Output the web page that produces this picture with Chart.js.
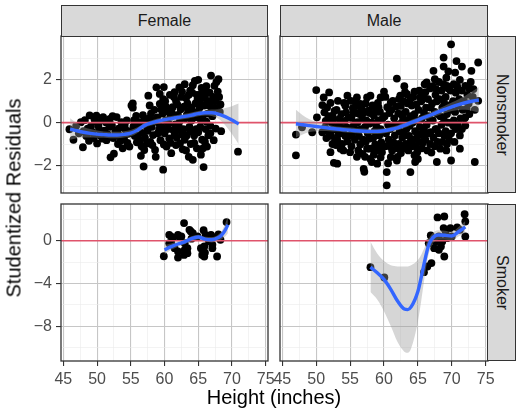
<!doctype html>
<html>
<head>
<meta charset="utf-8">
<title>Studentized Residuals</title>
<script src="https://cdn.jsdelivr.net/npm/chart.js@4.4.1/dist/chart.umd.min.js"></script>
<style>
  body { margin: 0; background: #ffffff; }
  #page { position: relative; width: 516px; height: 409px; overflow: hidden; font-family: "Liberation Sans", Arial, sans-serif; }
  canvas { position: absolute; left: 0; top: 0; }
  .strip { position: absolute; box-sizing: border-box; background: #d9d9d9; border: 1.3px solid #333333; color: #1a1a1a; font-size: 16px; display: flex; align-items: center; justify-content: center; z-index: 5; }
  .vtext { writing-mode: vertical-rl; }
  #ytitle { position: absolute; left: 14px; top: 198px; transform: translate(-50%, -50%) rotate(-90deg); font-size: 20px; white-space: nowrap; color: #000; }
  #xtitle { position: absolute; left: 274px; top: 397px; transform: translate(-50%, -50%); font-size: 20px; white-space: nowrap; color: #000; }
</style>
</head>
<body>
<div id="page">
  <canvas id="tl" width="516" height="409"></canvas>
  <canvas id="tr" width="516" height="409"></canvas>
  <canvas id="bl" width="516" height="409"></canvas>
  <canvas id="br" width="516" height="409"></canvas>
  <div class="strip" style="left:61px; top:5px; width:207px; height:32px;">Female</div>
  <div class="strip" style="left:280px; top:5px; width:208px; height:32px;">Male</div>
  <div class="strip" style="left:487px; top:36px; width:29px; height:157px;"><span class="vtext">Nonsmoker</span></div>
  <div class="strip" style="left:487px; top:204px; width:29px; height:157px;"><span class="vtext">Smoker</span></div>
  <div id="ytitle">Studentized Residuals</div>
  <div id="xtitle">Height (inches)</div>
</div>

<script>
// axes
const xRange = [44.65, 75.35];
const xMajor = [45, 50, 55, 60, 65, 70, 75];
const xMinor = [47.5, 52.5, 57.5, 62.5, 67.5, 72.5];
const topRange = [-3.29, 4.05];
const topMajor = [-2, 0, 2];
const topMinor = [-3, -1, 1, 3];
const botRange = [-11.27, 3.45];
const botMajor = [-8, -4, 0];
const botMinor = [-10, -6, -2, 2];
const refY = 0;

// residuals: [height, studentized residual]
const femaleNonsmoker = [
  [45.9,-0.31],[46.5,-0.8],[46.9,-0.15],[47.3,-0.5],[47.6,0.02],[47.9,-1.15],[48.2,0.12],[48.4,-0.62],[48.6,-0.28],[48.9,0.34],
  [49.1,-0.18],[49.3,-0.45],[49.5,-0.72],[49.7,0.05],[49.9,0.33],[50.0,-0.97],[50.3,-0.32],[50.5,-0.6],[50.7,0.12],[50.9,0.26],
  [51.1,-0.38],[51.4,-0.82],[51.6,-0.55],[51.9,0.18],[52.0,-1.62],[52.2,-0.12],[52.4,-0.72],[52.5,-1.45],[52.7,-0.42],[52.9,0.26],
  [53.1,-1.0],[53.2,-0.28],[53.4,-0.62],[53.6,0.02],[53.8,-1.2],[54.0,-0.76],[54.2,-0.32],[54.4,0.1],[54.6,-0.52],[54.8,-1.12],
  [55.1,0.8],[55.3,0.7],[55.3,0.9],[55.4,-0.18],[55.6,-0.62],[55.8,0.32],[55.9,-0.92],[56.1,-0.2],[56.3,0.02],[56.4,-0.82],
  [56.5,-1.55],[56.7,-0.48],[56.9,-2.05],[57.0,-1.28],[57.2,0.12],[57.4,-0.98],[57.5,-0.38],[57.6,1.26],[57.8,0.8],[58.0,0.42],
  [58.1,-0.2],[58.3,-0.58],[58.4,0.1],[58.6,-1.28],[58.7,-1.6],[58.8,1.65],[59.0,-0.5],[59.1,0.0],[59.3,1.34],[59.3,0.88],
  [59.4,-0.82],[59.6,-0.2],[59.7,0.42],[59.8,-2.2],[59.9,-1.02],[59.9,1.66],[60.1,1.0],[60.2,0.1],[60.3,-1.12],[60.4,0.52],
  [60.5,-0.3],[60.7,-0.74],[60.8,1.3],[60.9,0.28],[61.0,-1.43],[61.2,0.72],[61.3,-0.35],[61.5,1.42],[61.6,-0.08],[61.7,1.02],
  [61.8,-0.7],[62.0,0.36],[62.1,-0.12],[62.2,1.65],[62.3,-0.97],[62.4,0.62],[62.5,1.2],[62.6,-0.55],[62.7,-1.25],[62.8,-0.3],
  [63.0,1.8],[63.1,0.2],[63.2,1.15],[63.3,-0.6],[63.4,0.9],[63.5,0.55],[63.6,-1.6],[63.7,-0.2],[63.8,1.5],[63.9,-1.0],
  [64.0,0.1],[64.1,1.4],[64.2,-1.74],[64.3,0.5],[64.4,-0.6],[64.5,1.95],[64.6,0.9],[64.7,-0.3],[64.8,-1.2],[64.9,1.1],
  [65.0,2.0],[65.1,0.4],[65.2,1.3],[65.3,-0.2],[65.4,0.1],[65.5,1.62],[65.6,-0.8],[65.7,-1.2],[65.8,-2.08],[65.9,0.8],
  [66.0,1.2],[66.1,-0.3],[66.2,1.7],[66.3,-1.12],[66.4,0.42],[66.5,-0.6],[66.6,0.8],[66.9,2.2],[67.0,1.0],[67.1,0.3],
  [67.3,-0.82],[67.4,1.72],[67.5,0.7],[67.6,-0.28],[67.7,1.9],[67.9,1.45],[68.0,2.03],[68.2,0.5],[68.4,-0.4],[70.9,-1.36],
  [48.0,-0.4],[48.8,-0.85],[49.6,0.18],[50.2,-0.15],[50.8,-0.75],[51.3,0.02],[51.8,-0.2],[52.3,0.3],[53.0,-0.45],[53.5,-0.85],
  [54.1,-0.1],[54.5,-0.95],[55.0,-0.4],[55.5,0.12],[56.0,-0.6],[56.6,-1.1],[56.8,0.35],[57.1,-0.7],[57.3,-0.15],[57.7,0.2],
  [57.9,-0.9],[58.2,-1.05],[58.5,0.6],[58.9,0.25],[59.2,-0.3],[59.5,0.62],[59.8,1.1],[60.0,-0.5],[60.2,0.75],[60.6,-0.05],
  [60.9,-0.95],[61.1,0.45],[61.4,1.2],[61.5,-0.55],[61.9,0.85],[62.0,-0.35],[62.3,0.1],[62.6,1.45],[62.9,0.75],[63.0,-0.8],
  [63.3,0.35],[63.6,1.3],[63.8,-0.4],[64.0,0.7],[64.2,1.75],[64.4,-0.95],[64.6,0.25],[64.8,1.3],[65.0,-0.45],[65.2,0.7],
  [65.3,1.05],[65.6,0.25],[65.8,1.45],[66.0,-0.9],[66.2,0.05],[66.4,1.0],[66.7,1.4],[66.8,-0.15],[67.0,0.55],[67.2,1.2],
  [67.6,1.05],[68.1,1.2],[68.3,0.85],[66.8,-0.5],[65.4,-1.5],[63.2,-1.3],[61.7,-1.05]
];

const maleNonsmoker = [
  [47.0,-0.56],[47.0,-1.53],[47.9,-0.22],[49.4,-0.45],[50.9,-0.45],[50.0,1.52],[51.1,1.18],[51.9,1.41],[50.9,0.82],[51.6,0.71],
  [52.4,0.33],[50.1,0.25],[52.4,-1.0],[52.1,-1.38],[52.6,-1.88],[53.1,-1.92],[53.3,-0.53],[53.8,-1.0],[54.6,1.26],[54.3,0.79],
  [55.0,-1.38],[55.3,-0.22],[55.5,0.48],[56.0,1.18],[56.5,0.87],[57.0,-2.16],[57.1,-2.3],[56.8,-1.46],[57.5,1.18],[58.0,1.26],
  [57.7,0.56],[58.0,-1.22],[58.2,-1.84],[59.0,-1.92],[59.5,1.18],[59.2,0.71],[59.7,-1.38],[60.4,-2.31],[60.4,-2.93],[61.0,0.95],
  [61.0,-1.61],[61.9,2.06],[61.9,-1.77],[62.4,1.26],[62.6,0.4],[63.4,1.33],[63.9,-2.31],[64.6,-1.84],[64.9,-1.38],[65.3,1.18],
  [66.3,1.88],[65.8,-0.6],[66.8,-1.0],[67.3,2.42],[67.5,2.03],[67.8,-1.84],[68.3,-1.22],[67.7,1.57],[68.8,3.04],[68.8,2.62],
  [69.3,1.72],[69.9,3.66],[69.9,-1.77],[70.2,0.95],[70.5,2.34],[70.7,2.88],[71.2,-0.6],[71.5,2.62],[72.0,1.72],[72.0,0.25],
  [72.2,0.64],[72.9,2.42],[73.2,1.57],[73.4,-1.84],[73.9,2.81],[73.9,1.02],[72.0,-0.14],[70.2,-0.14],[69.3,-1.0],[71.2,-1.22],
  [51.2,0.48],[51.4,0.08],[51.3,-0.22],[51.5,-0.72],
  [52.1,0.92],[52.3,-0.02],[52.6,-0.32],[52.2,-0.62],[52.8,-0.82],[52.7,0.55],
  [53.2,1.02],[53.0,0.6],[53.4,0.18],[53.3,-0.12],[53.5,-0.42],[53.1,-0.8],[53.6,-1.22],
  [54.1,0.92],[54.4,0.48],[54.2,0.08],[54.5,-0.22],[54.3,-0.62],[54.6,-0.88],
  [55.1,1.02],[55.4,0.68],[55.2,0.22],[55.6,-0.1],[55.3,-0.52],[55.7,-0.8],[55.2,-1.1],
  [56.2,0.78],[56.4,0.4],[56.1,0.02],[56.6,-0.3],[56.3,-0.62],[56.5,-1.02],[56.2,-1.3],
  [57.3,0.9],[57.1,0.48],[57.4,0.1],[57.2,-0.2],[57.6,-0.5],[57.3,-0.9],[57.5,-1.22],[57.2,-1.6],
  [58.3,0.8],[58.5,0.32],[58.2,0.0],[58.6,-0.4],[58.4,-0.72],[58.7,-1.02],[58.5,-1.5],
  [59.1,0.92],[59.4,0.5],[59.2,0.1],[59.5,-0.3],[59.3,-0.6],[59.6,-0.92],[59.2,-1.2],[59.5,-1.62],
  [60.2,1.2],[60.5,0.72],[60.1,0.3],[60.6,-0.1],[60.3,-0.5],[60.7,-0.8],[60.2,-1.1],[60.6,-1.9],
  [61.3,1.02],[61.1,0.6],[61.5,0.2],[61.2,-0.2],[61.6,-0.6],[61.4,-0.92],[61.2,-1.3],
  [62.2,1.1],[62.5,0.78],[62.1,0.42],[62.6,0.0],[62.3,-0.4],[62.7,-0.7],[62.2,-1.0],[62.5,-1.42],
  [63.1,1.42],[63.5,0.9],[63.2,0.5],[63.6,0.1],[63.3,-0.3],[63.7,-0.62],[63.2,-1.0],[63.6,-1.3],
  [64.3,1.2],[64.1,0.8],[64.5,0.4],[64.2,0.0],[64.6,-0.4],[64.3,-0.8],[64.1,-1.1],[64.5,-1.52],
  [65.2,1.5],[65.5,1.0],[65.1,0.6],[65.6,0.2],[65.3,-0.2],[65.5,-0.52],[65.2,-0.9],[65.6,-1.2],
  [66.1,1.42],[66.5,1.1],[66.2,0.7],[66.6,0.3],[66.3,-0.1],[66.5,-0.5],[66.1,-0.8],[66.4,-1.3],
  [67.2,1.7],[67.6,1.3],[67.1,0.9],[67.5,0.5],[67.2,0.1],[67.6,-0.3],[67.3,-0.7],[67.5,-1.1],
  [68.1,1.9],[68.5,1.5],[68.2,1.1],[68.6,0.7],[68.3,0.3],[68.5,-0.1],[68.1,-0.5],[68.6,-0.9],
  [69.2,2.1],[69.5,1.6],[69.1,1.2],[69.6,0.8],[69.3,0.4],[69.5,0.0],[69.1,-0.4],[69.6,-0.8],[69.2,-1.3],
  [70.3,1.8],[70.6,1.4],[70.2,1.0],[70.5,0.5],[70.3,0.1],[70.6,-0.3],[70.4,-0.9],
  [71.2,2.0],[71.5,1.5],[71.1,1.1],[71.6,0.6],[71.3,0.2],[71.5,-0.3],
  [72.3,1.3],[72.5,0.9],[72.6,0.4],
  [73.1,1.2],[73.4,0.6],
  [51.8,0.3],[51.9,-0.45],[52.5,0.15],[52.9,-1.05],[53.7,0.4],[53.8,-0.25],[54.0,-0.5],[54.8,0.25],[54.9,-0.6],[55.8,0.95],
  [55.9,0.45],[55.9,-0.35],[56.8,0.2],[56.9,-0.8],[56.7,0.65],[57.8,-0.05],[57.9,0.45],[57.8,-0.75],[58.8,0.6],[58.9,-0.2],
  [58.9,-1.3],[59.8,0.2],[59.9,-0.45],[59.8,-1.1],[60.8,0.45],[60.9,-0.3],[60.9,-1.1],[61.8,0.75],[61.8,-0.1],[61.9,-1.2],
  [62.9,1.0],[62.8,0.25],[62.9,-0.5],[62.8,-1.2],[63.9,1.1],[63.9,0.3],[63.8,-0.15],[63.9,-0.9],[64.8,0.85],[64.8,0.1],
  [64.9,-0.65],[64.7,-1.1],[65.8,1.25],[65.9,0.45],[65.9,-0.3],[65.7,-0.95],[66.8,1.6],[66.9,0.7],[66.8,0.15],[66.9,-0.45],
  [67.8,1.0],[67.9,0.4],[67.8,-0.3],[67.9,-0.9],[68.8,1.8],[68.9,0.9],[68.8,0.2],[68.9,-0.6],[69.8,1.5],[69.9,0.6],
  [69.9,-0.5],[70.8,1.7],[70.9,0.8],[70.9,-0.1],[71.8,1.0],[71.9,0.2],[72.8,1.9],[72.6,1.6],[67.0,-1.4],[65.0,-1.7],
  [62.0,-1.6],[58.0,-1.7],[56.0,-1.6],[54.0,-1.3],[60.0,1.45],[63.0,1.7],[66.0,1.8],[69.5,2.4],[64.5,1.45]
];

const femaleSmoker = [
  [59.9,-1.45],[60.7,0.56],[60.7,-0.22],[61.0,0.4],[61.0,-0.22],[61.5,-0.69],[61.3,0.3],[62.0,-1.0],[62.0,-1.57],[62.0,0.56],
  [62.2,0.4],[62.5,0.41],[62.9,1.66],[62.9,-1.32],[63.0,-0.85],[63.0,-0.22],[63.4,-0.69],[63.4,-1.16],[63.7,1.03],[63.9,0.87],
  [64.0,0.2],[64.2,0.72],[64.9,0.41],[65.4,-0.69],[65.6,-1.32],[65.8,1.0],[65.9,-0.53],[65.9,-1.48],[66.0,-1.1],[66.1,0.56],
  [66.6,-0.06],[66.9,0.56],[67.0,0.41],[67.1,-0.69],[67.1,-0.37],[67.8,-1.47],[68.0,0.6],[68.3,0.1],[69.2,1.76]
];

const maleSmoker = [
  [58.0,-2.47],[60.05,-3.44],[65.9,-2.94],[66.4,-2.41],[67.0,-2.09],[66.6,-0.22],[66.9,0.5],[67.9,2.19],[68.9,2.28],[68.6,-0.06],
  [67.4,-0.69],[68.4,-0.53],[68.9,-1.47],[69.1,0.88],[69.8,1.19],[70.8,1.25],[71.9,2.5],[72.0,1.81],[72.0,0.41],[70.0,0.41],
  [69.3,0.25],[71.2,1.03],[67.6,-0.06],[68.1,0.41],[68.1,-0.85],[68.8,1.19]
];

// loess fits and confidence bands
const fnFitX = [46,47,48,49,50,51,52,53,54,55,56,57,58,59,60,61,62,63,64,65,66,67,68,69,70,71];
const fnFit = [-0.3,-0.38,-0.45,-0.5,-0.54,-0.56,-0.58,-0.58,-0.55,-0.49,-0.35,-0.14,-0.02,0.07,0.14,0.19,0.24,0.29,0.35,0.42,0.46,0.46,0.4,0.28,0.12,-0.06];
const fnHi = [0.2,-0.03,-0.2,-0.3,-0.37,-0.41,-0.43,-0.43,-0.4,-0.34,-0.22,-0.02,0.1,0.19,0.26,0.31,0.36,0.41,0.47,0.54,0.59,0.61,0.62,0.68,0.77,0.89];
const fnLo = [-0.8,-0.73,-0.7,-0.7,-0.71,-0.71,-0.73,-0.73,-0.7,-0.64,-0.48,-0.26,-0.14,-0.05,0.02,0.07,0.12,0.17,0.23,0.3,0.33,0.31,0.18,-0.12,-0.53,-1.01];

const mnFitX = [47,48,49,50,51,52,53,54,55,56,57,58,59,60,61,62,63,64,65,66,67,68,69,70,71,72,73,74];
const mnFit = [-0.05,-0.1,-0.14,-0.18,-0.22,-0.26,-0.3,-0.33,-0.35,-0.38,-0.4,-0.41,-0.41,-0.38,-0.32,-0.24,-0.13,0.0,0.12,0.25,0.37,0.5,0.62,0.74,0.84,0.93,1.0,1.06];
const mnHi = [0.6,0.35,0.16,0.04,-0.05,-0.12,-0.18,-0.21,-0.23,-0.26,-0.28,-0.29,-0.29,-0.26,-0.2,-0.12,-0.01,0.12,0.24,0.37,0.5,0.65,0.79,0.94,1.09,1.26,1.45,1.66];
const mnLo = [-0.7,-0.55,-0.44,-0.4,-0.39,-0.4,-0.42,-0.45,-0.47,-0.5,-0.52,-0.53,-0.53,-0.5,-0.44,-0.36,-0.25,-0.12,0.0,0.13,0.24,0.35,0.45,0.54,0.59,0.6,0.55,0.46];

const fsFitX = [60,61,62,63,64,65,66,67,68,68.5,69,69.4];
const fsFit = [-0.85,-0.55,-0.3,-0.1,0.2,0.35,0.15,0.1,0.3,0.55,1.0,1.5];
const fsHi = [-0.4,-0.25,-0.05,0.12,0.42,0.57,0.37,0.35,0.6,0.95,1.6,2.3];
const fsLo = [-1.3,-0.85,-0.55,-0.32,-0.02,0.13,-0.07,-0.15,0.0,0.15,0.4,0.7];

const msFitX = [58,59,60,61,62,63,63.5,64,65,65.5,66,66.5,67,67.5,68,69,70,71,72];
const msFit = [-2.47,-3.0,-3.62,-4.55,-5.65,-6.4,-6.45,-6.2,-4.75,-3.4,-1.9,-0.6,0.1,0.45,0.55,0.52,0.45,0.85,1.3];
const msHi = [-0.1,-1.2,-1.9,-2.3,-2.4,-2.4,-2.4,-2.3,-1.8,-1.3,-0.6,0.1,0.6,0.9,1.0,0.95,0.85,1.3,1.85];
const msLo = [-4.8,-5.5,-6.6,-8.0,-9.5,-10.4,-10.5,-10.1,-7.6,-5.6,-3.4,-1.5,-0.5,-0.05,0.1,0.1,0.05,0.4,0.75];

Chart.defaults.font.family = '"Liberation Sans", Arial, sans-serif';

const panelBox = {
  id: 'panelBox',
  afterDraw(chart) {
    const a = chart.chartArea, c = chart.ctx;
    c.save();
    c.strokeStyle = '#333333';
    c.lineWidth = 1.3;
    c.strokeRect(a.left, a.top, a.right - a.left, a.bottom - a.top);
    c.restore();
  }
};

function fmt(v) {
  return v < 0 ? '\u2212' + Math.abs(v) : String(v);
}

function axisOpts(range, major, minor, show, size, isX) {
  const all = major.concat(minor).sort((a, b) => a - b);
  const isMajor = v => major.indexOf(v) >= 0;
  return {
    type: 'linear',
    min: range[0],
    max: range[1],
    afterBuildTicks: s => { s.ticks = all.map(v => ({ value: v })); },
    afterFit: s => { if (isX) s.height = size; else s.width = size; },
    border: { display: false },
    grid: {
      color: c => (c.tick && isMajor(c.tick.value)) ? '#c6c6c6' : '#ebebeb',
      lineWidth: c => (c.tick && isMajor(c.tick.value)) ? 1.1 : 0.6,
      drawTicks: show,
      tickLength: 5,
      tickWidth: 1.1,
      tickColor: c => (c.tick && isMajor(c.tick.value)) ? '#333333' : 'rgba(0,0,0,0)'
    },
    ticks: {
      display: show,
      autoSkip: false,
      maxRotation: 0,
      minRotation: 0,
      padding: 4,
      color: '#4d4d4d',
      font: { size: 16 },
      callback: v => isMajor(v) ? fmt(v) : ''
    }
  };
}

function xy(xs, ys) {
  return xs.map((x, i) => ({ x: x, y: ys[i] }));
}

function panel(id, pad, xShow, yShow, yRange, yMajor, yMinor, pts, fx, fy, fhi, flo) {
  new Chart(document.getElementById(id), {
    type: 'scatter',
    data: {
      datasets: [
        { type: 'line', data: xy(fx, fy), borderColor: '#3366FF', borderWidth: 3.4, pointRadius: 0,
          cubicInterpolationMode: 'monotone', fill: false, clip: 0 },
        { type: 'line', data: xy(fx, fhi), borderColor: 'rgba(0,0,0,0)', pointRadius: 0,
          cubicInterpolationMode: 'monotone', fill: false, clip: 0 },
        { type: 'line', data: xy(fx, flo), borderColor: 'rgba(0,0,0,0)', pointRadius: 0,
          cubicInterpolationMode: 'monotone', fill: '-1', backgroundColor: 'rgba(153,153,153,0.4)', clip: 0 },
        { type: 'line', data: xy(xRange, [refY, refY]), borderColor: '#DF536B', borderWidth: 1.6,
          pointRadius: 0, fill: false, clip: 0 },
        { data: pts.map(p => ({ x: p[0], y: p[1] })), pointRadius: 3.9, pointBackgroundColor: '#000000',
          pointBorderWidth: 0, clip: 0 }
      ]
    },
    options: {
      responsive: false,
      animation: false,
      events: [],
      layout: { padding: pad },
      plugins: { legend: { display: false }, tooltip: { enabled: false } },
      scales: {
        x: axisOpts(xRange, xMajor, xMinor, xShow, xShow ? 48 : 0, true),
        y: axisOpts(yRange, yMajor, yMinor, yShow, yShow ? 61 : 0, false)
      }
    },
    plugins: [panelBox]
  });
}

panel('tl', { left: 0, top: 36, right: 248, bottom: 216 }, false, true, topRange, topMajor, topMinor,
      femaleNonsmoker, fnFitX, fnFit, fnHi, fnLo);
panel('tr', { left: 280, top: 36, right: 28, bottom: 216 }, false, false, topRange, topMajor, topMinor,
      maleNonsmoker, mnFitX, mnFit, mnHi, mnLo);
panel('bl', { left: 0, top: 204, right: 248, bottom: 0 }, true, true, botRange, botMajor, botMinor,
      femaleSmoker, fsFitX, fsFit, fsHi, fsLo);
panel('br', { left: 280, top: 204, right: 28, bottom: 0 }, true, false, botRange, botMajor, botMinor,
      maleSmoker, msFitX, msFit, msHi, msLo);
</script>
</body>
</html>
